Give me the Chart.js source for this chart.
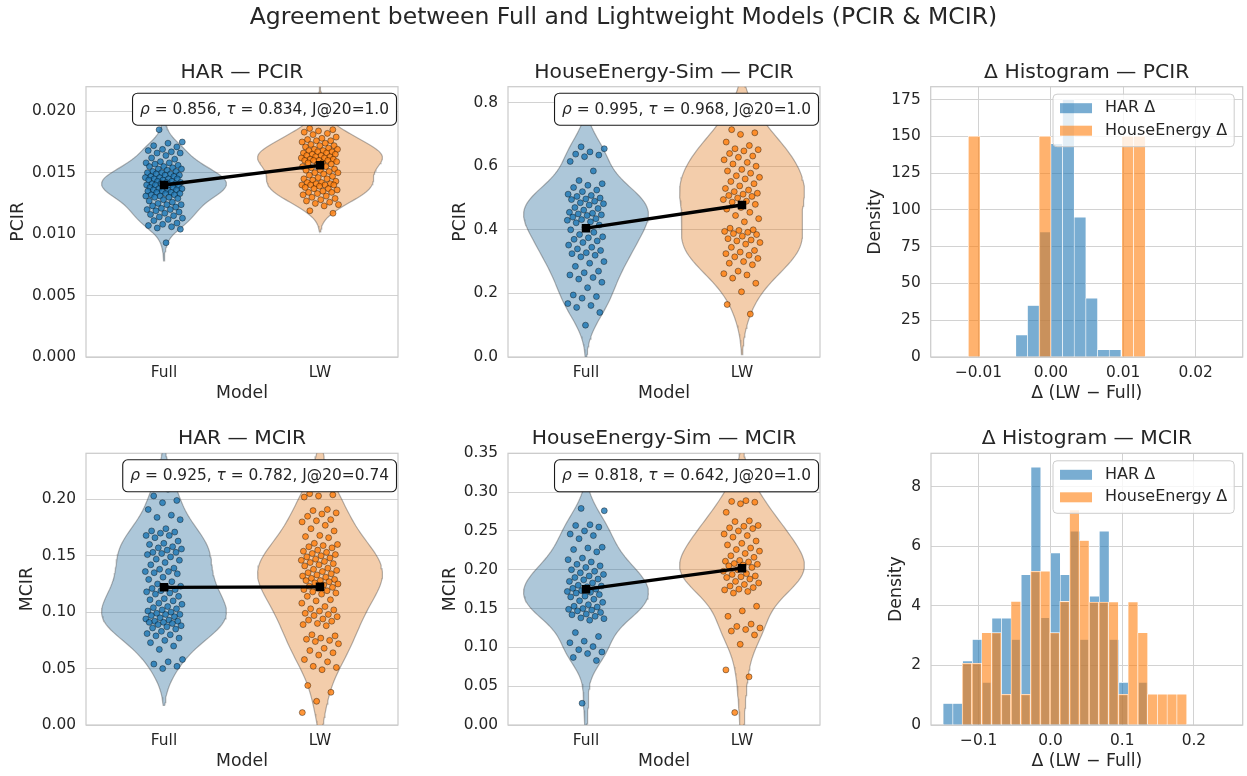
<!DOCTYPE html>
<html>
<head>
<meta charset="utf-8">
<script src="https://cdn.jsdelivr.net/npm/chart.js@4.4.1/dist/chart.umd.min.js"></script>
<style>
  html, body { margin: 0; padding: 0; background: #fff; }
  #page { position: relative; width: 1247px; height: 776px; overflow: hidden; }
  #page canvas { position: absolute; left: 0; top: 0; }
  #suptitle { position: absolute; left: 0; top: 5px; width: 1247px; text-align: center;
              font: 23.5px/1 "DejaVu Sans", sans-serif; color: #262626; white-space: nowrap; }
</style>
</head>
<body>
<div id="page">
  <canvas id="harPcir" width="1247" height="776"></canvas>
  <canvas id="hePcir" width="1247" height="776"></canvas>
  <canvas id="histPcir" width="1247" height="776"></canvas>
  <canvas id="harMcir" width="1247" height="776"></canvas>
  <canvas id="heMcir" width="1247" height="776"></canvas>
  <canvas id="histMcir" width="1247" height="776"></canvas>
  <div id="suptitle">Agreement between Full and Lightweight Models (PCIR &amp; MCIR)</div>
</div>
<script>
// ---- data ----
const models = ['Full', 'LW'];

const harPcirFull = [
  0.0185, 0.0175, 0.0174, 0.0172, 0.0171,
  0.0169, 0.0168, 0.0167, 0.0166, 0.0166, 0.0164, 0.0162, 0.0161,
  0.0159, 0.0158, 0.0158, 0.0157, 0.0156, 0.0155, 0.0155, 0.0154, 0.0153, 0.0153, 0.0152, 0.0151, 0.0151, 0.0150, 0.0150,
  0.0149, 0.0149, 0.0148, 0.0148, 0.0147, 0.0147, 0.0146, 0.0146, 0.0145, 0.0145, 0.0145, 0.0144, 0.0144, 0.0143,
  0.0143, 0.0142, 0.0142, 0.0141, 0.0141, 0.0141, 0.0140, 0.0140, 0.0140,
  0.0139, 0.0139, 0.0138, 0.0138, 0.0137, 0.0137, 0.0136, 0.0136, 0.0136, 0.0135, 0.0135, 0.0134, 0.0134,
  0.0133, 0.0133, 0.0132, 0.0132, 0.0131, 0.0131, 0.0130, 0.0130,
  0.0129, 0.0128, 0.0127, 0.0126, 0.0125, 0.0124, 0.0124, 0.0123, 0.0122, 0.0121, 0.0120, 0.0120,
  0.0119, 0.0118, 0.0117, 0.0116, 0.0115, 0.0114, 0.0113, 0.0112, 0.0111,
  0.0109, 0.0108, 0.0107, 0.0106, 0.0105, 0.0104, 0.0093
];
const harPcirLw = [
  0.0206, 0.0197, 0.0192,
  0.0186, 0.0185, 0.0184, 0.0183, 0.0182, 0.0181,
  0.0179, 0.0178, 0.0177, 0.0176, 0.0176, 0.0175, 0.0174, 0.0173, 0.0172, 0.0172, 0.0171, 0.0170,
  0.0169, 0.0169, 0.0168, 0.0168, 0.0167, 0.0167, 0.0166, 0.0166, 0.0165, 0.0165, 0.0164, 0.0164,
  0.0163, 0.0163, 0.0162, 0.0162, 0.0161, 0.0161, 0.0160, 0.0160, 0.0160, 0.0160,
  0.0159, 0.0158, 0.0158, 0.0157, 0.0156, 0.0155, 0.0155, 0.0154, 0.0153, 0.0152, 0.0152, 0.0151, 0.0150, 0.0150,
  0.0149, 0.0148, 0.0147, 0.0146, 0.0145, 0.0145, 0.0144, 0.0143, 0.0142, 0.0142, 0.0141, 0.0141,
  0.0140, 0.0140, 0.0140, 0.0140,
  0.0139, 0.0138, 0.0137, 0.0137, 0.0136, 0.0135, 0.0134, 0.0134, 0.0133, 0.0132, 0.0131, 0.0130,
  0.0129, 0.0128, 0.0127, 0.0126, 0.0125, 0.0124, 0.0123, 0.0119, 0.0117
];
const hePcirFull = [
  0.661, 0.655, 0.645, 0.638, 0.635, 0.630, 0.615, 0.585, 0.555, 0.545, 0.540, 0.533, 0.525, 0.520,
  0.512, 0.508, 0.505, 0.500, 0.497, 0.495, 0.490, 0.485, 0.482, 0.478, 0.470, 0.467, 0.462, 0.455,
  0.452, 0.450, 0.447, 0.445, 0.440, 0.435, 0.432, 0.430, 0.425, 0.422, 0.415, 0.408, 0.400, 0.392,
  0.385, 0.378, 0.375, 0.370, 0.365, 0.360, 0.352, 0.345, 0.340, 0.335, 0.328, 0.325, 0.320, 0.315,
  0.300, 0.295, 0.285, 0.270, 0.265, 0.258, 0.250, 0.245, 0.235, 0.218, 0.195, 0.190, 0.185, 0.168,
  0.162, 0.156, 0.140, 0.100
];
const hePcirLw = [
  0.785, 0.760, 0.745, 0.715, 0.705, 0.700, 0.676, 0.665, 0.655, 0.652, 0.648, 0.640, 0.632, 0.628,
  0.620, 0.612, 0.607, 0.600, 0.590, 0.585, 0.578, 0.570, 0.565, 0.560, 0.552, 0.545, 0.538, 0.530,
  0.525, 0.520, 0.515, 0.512, 0.508, 0.505, 0.500, 0.495, 0.490, 0.487, 0.480, 0.470, 0.465, 0.455,
  0.445, 0.435, 0.425, 0.405, 0.400, 0.398, 0.395, 0.392, 0.388, 0.385, 0.380, 0.372, 0.368, 0.365,
  0.360, 0.355, 0.345, 0.335, 0.330, 0.325, 0.320, 0.315, 0.310, 0.300, 0.295, 0.290, 0.270, 0.262,
  0.258, 0.248, 0.232, 0.205, 0.165, 0.135
];
const harMcirFull = [
  0.222, 0.215, 0.209, 0.203, 0.199, 0.197, 0.191, 0.186, 0.184, 0.182,
  0.174, 0.172, 0.171, 0.170, 0.168, 0.168, 0.166, 0.163, 0.161, 0.160,
  0.158, 0.157, 0.156, 0.155, 0.153, 0.153, 0.152, 0.151, 0.149, 0.147, 0.146, 0.144, 0.142,
  0.139, 0.138, 0.136, 0.136, 0.135, 0.134, 0.131, 0.129, 0.127, 0.125,
  0.123, 0.122, 0.121, 0.120, 0.119, 0.118, 0.117, 0.116, 0.114, 0.112, 0.111, 0.110, 0.108,
  0.107, 0.105, 0.104, 0.103, 0.102, 0.101, 0.100,
  0.099, 0.098, 0.098, 0.097, 0.096, 0.095, 0.094, 0.093, 0.092, 0.092, 0.091, 0.091, 0.090,
  0.089, 0.088, 0.087, 0.086, 0.085, 0.083, 0.081,
  0.080, 0.079, 0.077, 0.075, 0.073, 0.070, 0.067,
  0.058, 0.056, 0.054, 0.052, 0.050
];
const harMcirLw = [
  0.228, 0.218, 0.212, 0.205, 0.204, 0.203, 0.202, 0.191, 0.190, 0.188, 0.187, 0.185, 0.182,
  0.181, 0.180, 0.177, 0.174, 0.172, 0.168, 0.167, 0.166,
  0.161, 0.160, 0.159, 0.158, 0.157, 0.155, 0.154, 0.153, 0.152, 0.151, 0.150, 0.149, 0.148,
  0.147, 0.146, 0.145, 0.144, 0.143, 0.142, 0.141,
  0.139, 0.138, 0.137, 0.136, 0.135, 0.134, 0.133, 0.132, 0.131, 0.130, 0.129, 0.128, 0.128,
  0.127, 0.126, 0.125, 0.124, 0.123, 0.122, 0.121, 0.120,
  0.119, 0.118, 0.117, 0.116, 0.114, 0.111, 0.110, 0.108, 0.105, 0.103, 0.102, 0.101,
  0.099, 0.098, 0.097, 0.096, 0.094, 0.093, 0.092, 0.090, 0.089, 0.088,
  0.080, 0.079, 0.077, 0.076, 0.075, 0.074, 0.072, 0.068, 0.066, 0.064, 0.062, 0.058, 0.056,
  0.052, 0.051, 0.049, 0.035, 0.029, 0.021, 0.011
];
const heMcirFull = [
  0.279, 0.276, 0.258, 0.257, 0.255, 0.250, 0.246, 0.244, 0.240, 0.229, 0.228, 0.226, 0.223,
  0.215, 0.213, 0.210, 0.207, 0.205, 0.203, 0.200, 0.198, 0.196, 0.194, 0.192, 0.190, 0.188,
  0.187, 0.185, 0.183, 0.180, 0.179, 0.178, 0.176, 0.175, 0.173, 0.172, 0.171, 0.170, 0.168,
  0.166, 0.165, 0.162, 0.160, 0.158, 0.155, 0.153, 0.152, 0.150, 0.149, 0.148, 0.147, 0.145,
  0.143, 0.142, 0.140, 0.138, 0.137, 0.135, 0.119, 0.114, 0.108, 0.106, 0.101, 0.097, 0.094,
  0.092, 0.087, 0.083, 0.028
];
const heMcirLw = [
  0.318, 0.308, 0.289, 0.288, 0.287, 0.285, 0.274, 0.263, 0.262, 0.257, 0.256, 0.254, 0.253,
  0.250, 0.246, 0.244, 0.242, 0.237, 0.234, 0.232, 0.228, 0.226, 0.224, 0.221, 0.218, 0.216,
  0.212, 0.211, 0.210, 0.208, 0.207, 0.206, 0.205, 0.203, 0.200, 0.198, 0.195, 0.194, 0.192,
  0.191, 0.190, 0.188, 0.185, 0.183, 0.181, 0.179, 0.177, 0.175, 0.174, 0.172, 0.170, 0.153,
  0.147, 0.140, 0.130, 0.127, 0.125, 0.123, 0.121, 0.116, 0.104, 0.071, 0.062, 0.016
];

// group means joined by the black connector
const harPcirMeans = [0.0140, 0.0156];
const hePcirMeans = [0.405, 0.478];
const harMcirMeans = [0.122, 0.1225];
const heMcirMeans = [0.175, 0.202];

// agreement stats per panel: HAR PCIR, HouseEnergy PCIR, HAR MCIR, HouseEnergy MCIR
const rho = [0.856, 0.995, 0.925, 0.818];
const tau = [0.834, 0.968, 0.782, 0.642];
const jaccard20 = ['1.0', '1.0', '0.74', '1.0'];

// delta histograms (density per bin), first bin edge and bin width
const harDeltaPcir = [15, 35, 85, 145, 175, 95, 40, 5, 5];
const harDeltaPcirStart = -0.00484, harDeltaPcirWidth = 0.001613;
const heDeltaPcir = [150, 0, 0, 0, 0, 0, 150, 0, 0, 0, 0, 0, 0, 150, 150];
const heDeltaPcirStart = -0.0114, heDeltaPcirWidth = 0.00163;
const harDeltaMcir = [0.72, 0.72, 2.15, 2.87, 1.43, 3.58, 3.58, 2.87, 5.04, 8.65, 3.6,
                      5.77, 5.04, 6.5, 2.87, 4.32, 6.5, 2.87, 1.43, 0, 1.43];
const harDeltaMcirStart = -0.1496, harDeltaMcirWidth = 0.01361;
const heDeltaMcir = [2.07, 2.07, 3.1, 3.1, 1.03, 4.15, 1.03, 5.16, 5.16, 3.1, 4.15, 7.22,
                     6.19, 4.13, 4.13, 4.13, 1.03, 4.13, 3.1, 1.03, 1.03, 1.03, 1.03];
const heDeltaMcirStart = -0.1231, heDeltaMcirWidth = 0.01361;

// tick values
const harPcirTicks = [0, 0.005, 0.01, 0.015, 0.02];
const hePcirTicks = [0, 0.2, 0.4, 0.6, 0.8];
const harMcirTicks = [0, 0.05, 0.1, 0.15, 0.2];
const heMcirTicks = [0, 0.05, 0.1, 0.15, 0.2, 0.25, 0.3, 0.35];
const densityPcirTicks = [0, 25, 50, 75, 100, 125, 150, 175];
const densityMcirTicks = [0, 2, 4, 6, 8];
const deltaPcirTicks = [-0.01, 0, 0.01, 0.02];
const deltaMcirTicks = [-0.1, 0, 0.1, 0.2];

// ---- styling ----
const FONT = '"DejaVu Sans", sans-serif';
const INK = '#262626';
const GRID = '#d2d2d2';
const SPINE = '#cccccc';
const TICK_SIZE = 15.4, LABEL_SIZE = 17.3, TITLE_SIZE = 20.3, NOTE_SIZE = 15.4;
const X_AXIS_H = 46.4, TICK_PAD = 6.9, TITLE_GAP = 2.2;

Chart.defaults.font.family = FONT;
Chart.defaults.color = INK;
Chart.defaults.animation = false;
Chart.defaults.events = [];
Chart.defaults.plugins.legend.display = false;
Chart.defaults.plugins.tooltip.enabled = false;

const VIOLIN = ['rgba(50,116,161,0.4)', 'rgba(225,129,44,0.4)'];
const VIOLIN_EDGE = 'rgba(70,70,70,0.4)';
const DOT = ['rgba(31,119,180,0.82)', 'rgba(255,127,14,0.82)'];
const DOT_EDGE = 'rgba(0,0,0,0.65)';
const HIST = ['rgba(31,119,180,0.6)', 'rgba(255,127,14,0.6)'];

// plot-area boxes on the page, yw = width reserved for y ticks + label
const boxes = {
  harPcir: { left: 86, right: 398, top: 86.7, bottom: 357, yw: 77.5 },
  hePcir: { left: 508, right: 820, top: 86.7, bottom: 357, yw: 57.6 },
  histPcir: { left: 930.7, right: 1242.7, top: 86.7, bottom: 357, yw: 65.7 },
  harMcir: { left: 86, right: 398, top: 453.3, bottom: 725, yw: 68.9 },
  heMcir: { left: 508, right: 820, top: 453.3, bottom: 725, yw: 67.9 },
  histMcir: { left: 931, right: 1242.7, top: 453.3, bottom: 725, yw: 45.1 }
};

function pads(b) {
  return {
    left: b.left - b.yw,
    right: 1247 - b.right,
    top: b.top - TITLE_SIZE * 1.2 - TITLE_GAP,
    bottom: 776 - b.bottom - X_AXIS_H
  };
}

// gaussian KDE (scott bandwidth, cut = 2), scaled so the widest point is 0.8
function violinOutline(values, pos) {
  const n = values.length;
  const mean = values.reduce((s, v) => s + v, 0) / n;
  const sd = Math.sqrt(values.reduce((s, v) => s + (v - mean) ** 2, 0) / (n - 1));
  const bw = sd * Math.pow(n, -0.2);
  const lo = Math.min(...values) - 2 * bw;
  const hi = Math.max(...values) + 2 * bw;
  const ys = [], dens = [];
  for (let i = 0; i < 100; i++) {
    const y = lo + (hi - lo) * i / 99;
    let d = 0;
    for (const v of values) d += Math.exp(-0.5 * ((y - v) / bw) ** 2);
    ys.push(y);
    dens.push(d);
  }
  const peak = Math.max(...dens);
  const right = ys.map((y, i) => ({ x: pos + 0.4 * dens[i] / peak, y }));
  const left = ys.map((y, i) => ({ x: pos - 0.4 * dens[i] / peak, y })).reverse();
  return [...right, ...left, right[0]];
}

// strip points spread sideways around the category
function strip(values, pos) {
  return values.map((y, i) => ({ x: pos + (((i * 0.618034 + 0.37) % 1) - 0.5) * 0.24, y }));
}

function histBars(heights, start, width) {
  return heights.map((h, i) => ({ x: start + (i + 0.5) * width, y: h }));
}

const fixedTicks = (vals) => (axis) => { axis.ticks = vals.map((v) => ({ value: v })); };

const frame = {
  id: 'frame',
  beforeDatasetsDraw(chart) {
    const { ctx, chartArea: a } = chart;
    ctx.save();
    ctx.strokeStyle = SPINE;
    ctx.lineWidth = 1.25;
    ctx.strokeRect(a.left, a.top, a.right - a.left, a.bottom - a.top);
    ctx.restore();
  }
};

const statBox = {
  id: 'statBox',
  afterDatasetsDraw(chart, args, opts) {
    if (!opts.parts) return;
    const { ctx, chartArea: a } = chart;
    const up = `${NOTE_SIZE}px ${FONT}`, it = `italic ${NOTE_SIZE}px ${FONT}`;
    ctx.save();
    let w = 0;
    for (const p of opts.parts) {
      ctx.font = p.it ? it : up;
      w += ctx.measureText(p.t).width;
    }
    const pad = 7.5, h = 32;
    const right = a.right - 1.5, left = right - w - 2 * pad, top = a.top + 6.5;
    ctx.beginPath();
    ctx.roundRect(left, top, right - left, h, 5);
    ctx.fillStyle = '#ffffff';
    ctx.fill();
    ctx.lineWidth = 1.1;
    ctx.strokeStyle = '#1a1a1a';
    ctx.stroke();
    ctx.fillStyle = INK;
    ctx.textBaseline = 'middle';
    let x = left + pad;
    for (const p of opts.parts) {
      ctx.font = p.it ? it : up;
      ctx.fillText(p.t, x, top + h / 2 + 0.5);
      x += ctx.measureText(p.t).width;
    }
    ctx.restore();
  }
};

const histLegend = {
  id: 'histLegend',
  afterDatasetsDraw(chart) {
    const { ctx, chartArea: a } = chart;
    const items = chart.data.datasets.map((d) => ({ label: d.label, color: d.backgroundColor }));
    ctx.save();
    ctx.font = `16px ${FONT}`;
    const tw = Math.max(...items.map((i) => ctx.measureText(i.label).width));
    const w = 52 + tw + 7, h = 52.5;
    const x0 = a.right - 8.5 - w, y0 = a.top + 7.5;
    ctx.beginPath();
    ctx.roundRect(x0, y0, w, h, 4);
    ctx.fillStyle = 'rgba(255,255,255,0.8)';
    ctx.fill();
    ctx.strokeStyle = SPINE;
    ctx.lineWidth = 1;
    ctx.stroke();
    items.forEach((item, i) => {
      const cy = y0 + 14 + i * 22.5;
      ctx.fillStyle = item.color;
      ctx.fillRect(x0 + 7, cy - 5, 32, 10);
      ctx.fillStyle = INK;
      ctx.textBaseline = 'middle';
      ctx.fillText(item.label, x0 + 52, cy);
    });
    ctx.restore();
  }
};

function panelTitle(text) {
  return {
    display: true, text, fullSize: false, color: INK,
    font: { size: TITLE_SIZE, weight: 'normal', family: FONT },
    padding: { top: 0, bottom: TITLE_GAP }
  };
}

function yScale(box, max, ticks, label, fmt) {
  return {
    min: 0, max,
    afterBuildTicks: fixedTicks(ticks),
    afterFit: (s) => { s.width = box.yw; },
    grid: { color: GRID, lineWidth: 1, drawTicks: false },
    border: { display: false },
    ticks: { padding: 10, font: { size: TICK_SIZE }, callback: fmt },
    title: { display: true, text: label, font: { size: LABEL_SIZE }, padding: 0 }
  };
}

function violinPanel(id, title, yLabel, full, lw, means, yMax, ticks, decimals, k) {
  const box = boxes[id];
  return new Chart(document.getElementById(id), {
    type: 'scatter',
    data: {
      datasets: [
        { type: 'line', data: violinOutline(full, 0), fill: 'shape', backgroundColor: VIOLIN[0],
          borderColor: VIOLIN_EDGE, borderWidth: 1.2, pointRadius: 0, tension: 0, order: 5 },
        { type: 'line', data: violinOutline(lw, 1), fill: 'shape', backgroundColor: VIOLIN[1],
          borderColor: VIOLIN_EDGE, borderWidth: 1.2, pointRadius: 0, tension: 0, order: 4 },
        { data: strip(full, 0), backgroundColor: DOT[0], borderColor: DOT_EDGE, borderWidth: 0.6,
          pointRadius: 3, order: 3 },
        { data: strip(lw, 1), backgroundColor: DOT[1], borderColor: DOT_EDGE, borderWidth: 0.6,
          pointRadius: 3, order: 2 },
        { type: 'line', data: means.map((m, i) => ({ x: i, y: m })), borderColor: '#000', borderWidth: 3.3,
          pointStyle: 'rect', pointRadius: 6, pointBackgroundColor: '#000', pointBorderColor: '#000',
          pointBorderWidth: 0, order: 1 }
      ]
    },
    options: {
      responsive: false,
      layout: { padding: pads(box) },
      scales: {
        x: {
          type: 'linear', min: -0.5, max: 1.5,
          afterBuildTicks: fixedTicks(models.map((_, i) => i)),
          afterFit: (s) => { s.height = X_AXIS_H; },
          grid: { display: false, drawTicks: false },
          border: { display: false },
          ticks: { padding: TICK_PAD, font: { size: TICK_SIZE }, callback: (v, i) => models[i] },
          title: { display: true, text: 'Model', font: { size: LABEL_SIZE }, padding: 0 }
        },
        y: yScale(box, yMax, ticks, yLabel, (v) => v.toFixed(decimals))
      },
      plugins: {
        title: panelTitle(title),
        statBox: {
          parts: [
            { t: 'ρ', it: true },
            { t: ' = ' + rho[k].toFixed(3) + ', ' },
            { t: 'τ', it: true },
            { t: ' = ' + tau[k].toFixed(3) + ', J@20=' + jaccard20[k] }
          ]
        }
      }
    },
    plugins: [frame, statBox]
  });
}

function histPanel(id, title, har, harStart, harWidth, he, heStart, heWidth,
                   xMin, xMax, xTicks, xDec, yMax, yTicks) {
  const box = boxes[id];
  const barStyle = { borderColor: '#ffffff', borderWidth: 0.6, grouped: false,
                     categoryPercentage: 1, barPercentage: 1 };
  const deltaFmt = (v) => v.toFixed(xDec).replace('-', '\u2212');
  return new Chart(document.getElementById(id), {
    type: 'bar',
    data: {
      datasets: [
        { label: 'HAR Δ', data: histBars(har, harStart, harWidth), xAxisID: 'x',
          backgroundColor: HIST[0], order: 2, ...barStyle },
        { label: 'HouseEnergy Δ', data: histBars(he, heStart, heWidth), xAxisID: 'x2',
          backgroundColor: HIST[1], order: 1, ...barStyle }
      ]
    },
    options: {
      responsive: false,
      layout: { padding: pads(box) },
      scales: {
        x: {
          type: 'linear', offset: false, min: xMin, max: xMax,
          afterBuildTicks: fixedTicks(xTicks),
          afterFit: (s) => { s.height = X_AXIS_H; },
          grid: { color: GRID, lineWidth: 1, drawTicks: false, offset: false },
          border: { display: false },
          ticks: { padding: TICK_PAD, font: { size: TICK_SIZE }, callback: deltaFmt },
          title: { display: true, text: 'Δ (LW \u2212 Full)', font: { size: LABEL_SIZE }, padding: 0 }
        },
        x2: {
          type: 'linear', display: false, offset: false, min: xMin, max: xMax,
          afterBuildTicks: fixedTicks(xTicks),
          grid: { offset: false }
        },
        y: yScale(box, yMax, yTicks, 'Density', (v) => String(v))
      },
      plugins: { title: panelTitle(title) }
    },
    plugins: [frame, histLegend]
  });
}

violinPanel('harPcir', 'HAR — PCIR', 'PCIR', harPcirFull, harPcirLw, harPcirMeans, 0.022, harPcirTicks, 3, 0);
violinPanel('hePcir', 'HouseEnergy-Sim — PCIR', 'PCIR', hePcirFull, hePcirLw, hePcirMeans, 0.85, hePcirTicks, 1, 1);
histPanel('histPcir', 'Δ Histogram — PCIR',
  harDeltaPcir, harDeltaPcirStart, harDeltaPcirWidth,
  heDeltaPcir, heDeltaPcirStart, heDeltaPcirWidth,
  -0.0166, 0.0265, deltaPcirTicks, 2, 183.75, densityPcirTicks);
violinPanel('harMcir', 'HAR — MCIR', 'MCIR', harMcirFull, harMcirLw, harMcirMeans, 0.2408, harMcirTicks, 2, 2);
violinPanel('heMcir', 'HouseEnergy-Sim — MCIR', 'MCIR', heMcirFull, heMcirLw, heMcirMeans, 0.35, heMcirTicks, 2, 3);
histPanel('histMcir', 'Δ Histogram — MCIR',
  harDeltaMcir, harDeltaMcirStart, harDeltaMcirWidth,
  heDeltaMcir, heDeltaMcirStart, heDeltaMcirWidth,
  -0.1665, 0.268, deltaMcirTicks, 1, 9.12, densityMcirTicks);
</script>
</body>
</html>
